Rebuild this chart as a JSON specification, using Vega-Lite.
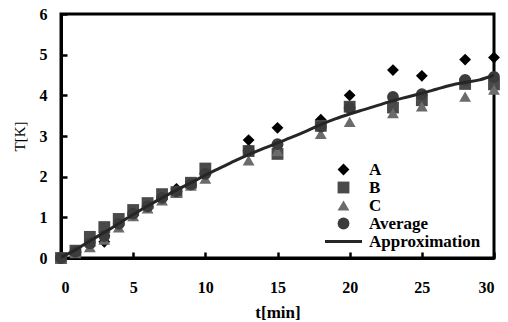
{
  "$schema": "https://vega.github.io/schema/vega-lite/v6.json",
  "width": 433,
  "height": 244,
  "autosize": "none",
  "padding": {"left": 61, "top": 14, "right": 14, "bottom": 64},
  "background": "white",
  "config": {
    "font": "'Liberation Serif', 'Times New Roman', serif",
    "view": {"stroke": "black", "strokeWidth": 3},
    "axis": {
      "domainColor": "black", "domainWidth": 3,
      "tickColor": "black", "tickWidth": 2.5, "tickSize": -6,
      "labelFont": "'Liberation Serif', 'Times New Roman', serif", "labelFontWeight": "bold", "labelFontSize": 16, "labelColor": "black",
      "titleFont": "'Liberation Serif', 'Times New Roman', serif", "titleColor": "black", "grid": false
    },
    "legend": {"labelFont": "'Liberation Serif', 'Times New Roman', serif"}
  },
  "datasets": {
    "pts": [
      {"t": 0, "T": 0, "s": "A"}, {"t": 1, "T": 0.15, "s": "A"}, {"t": 2, "T": 0.3, "s": "A"}, {"t": 3, "T": 0.4, "s": "A"},
      {"t": 4, "T": 0.8, "s": "A"}, {"t": 5, "T": 1.05, "s": "A"}, {"t": 6, "T": 1.25, "s": "A"}, {"t": 7, "T": 1.45, "s": "A"},
      {"t": 8, "T": 1.7, "s": "A"}, {"t": 9, "T": 1.8, "s": "A"}, {"t": 10, "T": 2.05, "s": "A"}, {"t": 13, "T": 2.9, "s": "A"},
      {"t": 15, "T": 3.2, "s": "A"}, {"t": 18, "T": 3.4, "s": "A"}, {"t": 20, "T": 4.0, "s": "A"}, {"t": 23, "T": 4.62, "s": "A"},
      {"t": 25, "T": 4.48, "s": "A"}, {"t": 28, "T": 4.88, "s": "A"}, {"t": 30, "T": 4.93, "s": "A"},
      {"t": 0, "T": 0, "s": "B"}, {"t": 1, "T": 0.18, "s": "B"}, {"t": 2, "T": 0.52, "s": "B"}, {"t": 3, "T": 0.76, "s": "B"},
      {"t": 4, "T": 0.96, "s": "B"}, {"t": 5, "T": 1.18, "s": "B"}, {"t": 6, "T": 1.35, "s": "B"}, {"t": 7, "T": 1.57, "s": "B"},
      {"t": 8, "T": 1.62, "s": "B"}, {"t": 9, "T": 1.85, "s": "B"}, {"t": 10, "T": 2.2, "s": "B"}, {"t": 13, "T": 2.63, "s": "B"},
      {"t": 15, "T": 2.56, "s": "B"}, {"t": 18, "T": 3.25, "s": "B"}, {"t": 20, "T": 3.72, "s": "B"}, {"t": 23, "T": 3.7, "s": "B"},
      {"t": 25, "T": 3.88, "s": "B"}, {"t": 28, "T": 4.28, "s": "B"}, {"t": 30, "T": 4.27, "s": "B"},
      {"t": 0, "T": 0, "s": "C"}, {"t": 1, "T": 0.12, "s": "C"}, {"t": 2, "T": 0.27, "s": "C"}, {"t": 3, "T": 0.45, "s": "C"},
      {"t": 4, "T": 0.75, "s": "C"}, {"t": 5, "T": 1.03, "s": "C"}, {"t": 6, "T": 1.22, "s": "C"}, {"t": 7, "T": 1.42, "s": "C"},
      {"t": 8, "T": 1.6, "s": "C"}, {"t": 9, "T": 1.78, "s": "C"}, {"t": 10, "T": 1.95, "s": "C"}, {"t": 13, "T": 2.4, "s": "C"},
      {"t": 15, "T": 2.63, "s": "C"}, {"t": 18, "T": 3.05, "s": "C"}, {"t": 20, "T": 3.35, "s": "C"}, {"t": 23, "T": 3.56, "s": "C"},
      {"t": 25, "T": 3.73, "s": "C"}, {"t": 28, "T": 3.97, "s": "C"}, {"t": 30, "T": 4.14, "s": "C"},
      {"t": 0, "T": 0, "s": "Average"}, {"t": 1, "T": 0.15, "s": "Average"}, {"t": 2, "T": 0.36, "s": "Average"}, {"t": 3, "T": 0.54, "s": "Average"},
      {"t": 4, "T": 0.84, "s": "Average"}, {"t": 5, "T": 1.09, "s": "Average"}, {"t": 6, "T": 1.27, "s": "Average"}, {"t": 7, "T": 1.48, "s": "Average"},
      {"t": 8, "T": 1.64, "s": "Average"}, {"t": 9, "T": 1.81, "s": "Average"}, {"t": 10, "T": 2.07, "s": "Average"}, {"t": 13, "T": 2.64, "s": "Average"},
      {"t": 15, "T": 2.8, "s": "Average"}, {"t": 18, "T": 3.23, "s": "Average"}, {"t": 20, "T": 3.69, "s": "Average"}, {"t": 23, "T": 3.96, "s": "Average"},
      {"t": 25, "T": 4.03, "s": "Average"}, {"t": 28, "T": 4.38, "s": "Average"}, {"t": 30, "T": 4.45, "s": "Average"}
    ],
    "approx": [
      {"t": 0, "T": 0.02}, {"t": 1, "T": 0.2}, {"t": 2, "T": 0.42}, {"t": 3, "T": 0.63}, {"t": 4, "T": 0.85},
      {"t": 5, "T": 1.07}, {"t": 6, "T": 1.28}, {"t": 7, "T": 1.48}, {"t": 8, "T": 1.67}, {"t": 9, "T": 1.85},
      {"t": 10, "T": 2.04}, {"t": 11, "T": 2.21}, {"t": 12, "T": 2.38}, {"t": 13, "T": 2.54}, {"t": 14, "T": 2.69},
      {"t": 15, "T": 2.83}, {"t": 16, "T": 2.97}, {"t": 17, "T": 3.12}, {"t": 18, "T": 3.28}, {"t": 19, "T": 3.42},
      {"t": 20, "T": 3.54}, {"t": 21, "T": 3.65}, {"t": 22, "T": 3.76}, {"t": 23, "T": 3.87}, {"t": 24, "T": 3.96},
      {"t": 25, "T": 4.05}, {"t": 26, "T": 4.15}, {"t": 27, "T": 4.25}, {"t": 28, "T": 4.32}, {"t": 29, "T": 4.38},
      {"t": 30, "T": 4.5}
    ]
  },
  "layer": [
    {
      "data": {"name": "pts"},
      "mark": {"type": "point", "filled": true, "opacity": 1, "size": 140},
      "encoding": {
        "x": {"field": "t", "type": "quantitative",
              "scale": {"domain": [0, 30], "nice": false},
              "axis": {"values": [0, 5, 10, 15, 20, 25, 30], "title": "t[min]", "titleFontSize": 17, "titleFontWeight": "bold", "labelPadding": 27, "titlePadding": 9}},
        "y": {"field": "T", "type": "quantitative",
              "scale": {"domain": [0, 6], "nice": false},
              "axis": {"values": [0, 1, 2, 3, 4, 5, 6], "title": "T[K]", "titleFontSize": 15, "titleFontWeight": "normal", "labelPadding": 20, "titlePadding": 12}},
        "color": {"field": "s", "type": "nominal",
                  "scale": {"domain": ["A", "B", "C", "Average", "Approximation"], "range": ["#000000", "#4a4a4a", "#6b6b6b", "#3c3c3c", "#262626"]},
                  "legend": {
                    "title": null, "orient": "none", "legendX": 274, "legendY": 147,
                    "labelFontWeight": "bold", "labelFontSize": 17, "labelColor": "black",
                    "labelOffset": 17, "rowPadding": 0, "symbolSize": 140, "padding": 0, "symbolOpacity": 1,
                    "encode": {"symbols": {"update": {
                      "fill": {"signal": "datum.value === 'Approximation' ? 'transparent' : scale('color', datum.value)"},
                      "stroke": {"signal": "scale('color', datum.value)"},
                      "strokeWidth": {"signal": "datum.value === 'Approximation' ? 3 : 0"},
                      "size": {"signal": "datum.value === 'Approximation' ? 1369 : 140"}
                    }}}
                  }},
        "shape": {"field": "s", "type": "nominal",
                  "scale": {"domain": ["A", "B", "C", "Average", "Approximation"], "range": ["diamond", "square", "triangle-up", "circle", "stroke"]}}
      }
    },
    {
      "data": {"name": "approx"},
      "mark": {"type": "line", "color": "#262626", "strokeWidth": 3, "interpolate": "monotone"},
      "encoding": {
        "x": {"field": "t", "type": "quantitative"},
        "y": {"field": "T", "type": "quantitative"}
      }
    }
  ]
}
